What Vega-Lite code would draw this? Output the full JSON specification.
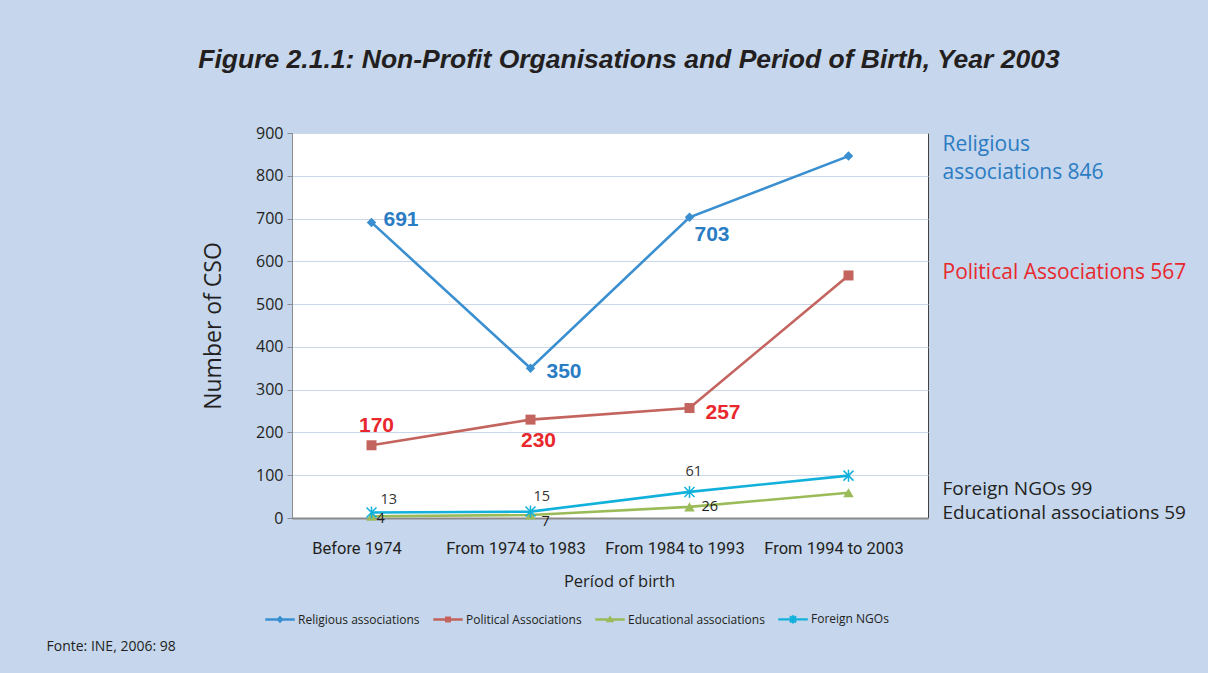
{
  "$schema": "https://vega.github.io/schema/vega-lite/v6.json",
  "width": 636,
  "height": 385,
  "autosize": {"type": "none"},
  "padding": {"left": 292, "top": 133, "right": 280, "bottom": 155},
  "background": "#c5d6ed",
  "config": {
    "view": {"fill": "#ffffff", "stroke": "#404040", "strokeWidth": 1},
    "font": "Open Sans"
  },
  "title": {
    "text": "Figure 2.1.1: Non-Profit Organisations and Period of Birth, Year 2003",
    "font": "Liberation Sans",
    "fontSize": 26.5,
    "fontStyle": "italic",
    "fontWeight": "bold",
    "color": "#231f20",
    "anchor": "middle",
    "frame": "group",
    "dx": 19,
    "offset": 52
  },
  "data": {
    "values": [
      {"period": "Before 1974", "series": "Religious associations", "n": 691},
      {"period": "From 1974 to 1983", "series": "Religious associations", "n": 350},
      {"period": "From 1984 to 1993", "series": "Religious associations", "n": 703},
      {"period": "From 1994 to 2003", "series": "Religious associations", "n": 846},
      {"period": "Before 1974", "series": "Political Associations", "n": 170},
      {"period": "From 1974 to 1983", "series": "Political Associations", "n": 230},
      {"period": "From 1984 to 1993", "series": "Political Associations", "n": 257},
      {"period": "From 1994 to 2003", "series": "Political Associations", "n": 567},
      {"period": "Before 1974", "series": "Educational associations", "n": 4},
      {"period": "From 1974 to 1983", "series": "Educational associations", "n": 7},
      {"period": "From 1984 to 1993", "series": "Educational associations", "n": 26},
      {"period": "From 1994 to 2003", "series": "Educational associations", "n": 59},
      {"period": "Before 1974", "series": "Foreign NGOs", "n": 13},
      {"period": "From 1974 to 1983", "series": "Foreign NGOs", "n": 15},
      {"period": "From 1984 to 1993", "series": "Foreign NGOs", "n": 61},
      {"period": "From 1994 to 2003", "series": "Foreign NGOs", "n": 99}
    ]
  },
  "encoding": {
    "x": {
      "field": "period",
      "type": "ordinal",
      "sort": ["Before 1974", "From 1974 to 1983", "From 1984 to 1993", "From 1994 to 2003"],
      "scale": {"type": "point", "padding": 0.5},
      "axis": {
        "title": "Períod of birth",
        "grid": false,
        "ticks": false,
        "domainColor": "#8a8a8a",
        "domainWidth": 2,
        "labelAngle": 0,
        "labelPadding": 22,
        "labelOffset": -15,
        "labelFont": "Roboto",
        "labelFontSize": 16.5,
        "labelColor": "#231f20",
        "titleFont": "Open Sans",
        "titleFontSize": 16.5,
        "titleFontWeight": "normal",
        "titleColor": "#231f20",
        "titlePadding": 17,
        "titleX": 327
      }
    },
    "y": {
      "field": "n",
      "type": "quantitative",
      "scale": {"domain": [0, 900], "nice": false},
      "axis": {
        "title": "Number of CSO",
        "values": [0, 100, 200, 300, 400, 500, 600, 700, 800, 900],
        "grid": true,
        "gridColor": "#c9d7ea",
        "gridWidth": 1,
        "domainColor": "#8c8c8c",
        "tickColor": "#8c8c8c",
        "tickSize": 5,
        "labelPadding": 4,
        "labelFont": "Open Sans",
        "labelFontSize": 16,
        "labelColor": "#231f20",
        "titleFont": "Open Sans",
        "titleFontSize": 23,
        "titleFontWeight": "normal",
        "titleColor": "#231f20",
        "titlePadding": 30
      }
    }
  },
  "layer": [
    {"mark": {"type": "point", "filled": true, "opacity": 0},
     "encoding": {
       "color": {"field": "series", "type": "nominal",
         "scale": {"domain": ["Religious associations", "Political Associations", "Educational associations", "Foreign NGOs"], "range": ["#3a8fd0", "#c4645e", "#9bbb59", "#12b1dc"]},
         "legend": {"title": null, "orient": "none", "legendX": -27, "legendY": 471, "direction": "horizontal", "labelFont": "Open Sans", "labelFontSize": 12, "labelColor": "#231f20", "labelOffset": 3, "columnPadding": 11, "symbolSize": 784, "symbolOpacity": 1}},
       "shape": {"field": "series", "type": "nominal",
         "scale": {"domain": ["Religious associations", "Political Associations", "Educational associations", "Foreign NGOs"],
           "range": [
             "M-1,-0.03H1V0.03H-1Z M0,-0.2L0.2,0L0,0.2L-0.2,0Z",
             "M-1,-0.03H1V0.03H-1Z M-0.16,-0.16H0.16V0.16H-0.16Z",
             "M-1,-0.03H1V0.03H-1Z M0,-0.2L0.2,0.15H-0.2Z",
             "M-1,-0.03H1V0.03H-1Z M-0.2,-0.16L-0.16,-0.2L0.2,0.16L0.16,0.2Z M0.16,-0.2L0.2,-0.16L-0.16,0.2L-0.2,0.16Z M-0.02,-0.24H0.02V0.24H-0.02Z"
           ]},
         "legend": {"title": null, "orient": "none", "legendX": -27, "legendY": 471, "direction": "horizontal", "labelFont": "Open Sans", "labelFontSize": 12, "labelColor": "#231f20", "labelOffset": 3, "columnPadding": 11, "symbolSize": 784, "symbolOpacity": 1}}
     }},
    {"mark": {"type": "line", "strokeWidth": 2.6},
     "encoding": {"stroke": {"field": "series", "type": "nominal", "legend": null,
       "scale": {"domain": ["Religious associations", "Political Associations", "Educational associations", "Foreign NGOs"], "range": ["#3a8fd0", "#c4645e", "#9bbb59", "#12b1dc"]}}}},
    {"transform": [{"filter": "datum.series === 'Religious associations'"}],
     "mark": {"type": "point", "shape": "diamond", "filled": true, "size": 90, "opacity": 1},
     "encoding": {"fill": {"field": "series", "type": "nominal", "legend": null,
       "scale": {"domain": ["Religious associations", "Political Associations", "Educational associations", "Foreign NGOs"], "range": ["#3a8fd0", "#c4645e", "#9bbb59", "#12b1dc"]}}}},
    {"transform": [{"filter": "datum.series === 'Political Associations'"}],
     "mark": {"type": "point", "shape": "square", "filled": true, "size": 100, "opacity": 1},
     "encoding": {"fill": {"field": "series", "type": "nominal", "legend": null}}},
    {"transform": [{"filter": "datum.series === 'Educational associations'"}],
     "mark": {"type": "point", "shape": "triangle-up", "filled": true, "size": 110, "opacity": 1},
     "encoding": {"fill": {"field": "series", "type": "nominal", "legend": null}}},
    {"transform": [{"filter": "datum.series === 'Foreign NGOs'"}],
     "mark": {"type": "point", "shape": "M-1,-1L1,1M-1,1L1,-1M0,-1.2V1.2", "filled": false, "size": 100, "strokeWidth": 1.5, "opacity": 1},
     "encoding": {"stroke": {"field": "series", "type": "nominal", "legend": null}}},

    {"transform": [{"filter": "datum.series === 'Religious associations' && datum.period === 'Before 1974'"}],
     "mark": {"type": "text", "align": "left", "baseline": "middle", "dx": 12, "dy": -2, "font": "Liberation Sans", "fontWeight": "bold", "fontSize": 21},
     "encoding": {"text": {"field": "n", "type": "quantitative"}, "color": {"value": "#2a7cc4"}}},
    {"transform": [{"filter": "datum.series === 'Religious associations' && datum.period === 'From 1974 to 1983'"}],
     "mark": {"type": "text", "align": "left", "baseline": "middle", "dx": 16, "dy": 4, "font": "Liberation Sans", "fontWeight": "bold", "fontSize": 21},
     "encoding": {"text": {"field": "n", "type": "quantitative"}, "color": {"value": "#2a7cc4"}}},
    {"transform": [{"filter": "datum.series === 'Religious associations' && datum.period === 'From 1984 to 1993'"}],
     "mark": {"type": "text", "align": "left", "baseline": "middle", "dx": 5, "dy": 18, "font": "Liberation Sans", "fontWeight": "bold", "fontSize": 21},
     "encoding": {"text": {"field": "n", "type": "quantitative"}, "color": {"value": "#2a7cc4"}}},
    {"transform": [{"filter": "datum.series === 'Political Associations' && datum.period === 'Before 1974'"}],
     "mark": {"type": "text", "align": "center", "baseline": "middle", "dx": 5, "dy": -19, "font": "Liberation Sans", "fontWeight": "bold", "fontSize": 21},
     "encoding": {"text": {"field": "n", "type": "quantitative"}, "color": {"value": "#e8282d"}}},
    {"transform": [{"filter": "datum.series === 'Political Associations' && datum.period === 'From 1974 to 1983'"}],
     "mark": {"type": "text", "align": "center", "baseline": "middle", "dx": 8, "dy": 21, "font": "Liberation Sans", "fontWeight": "bold", "fontSize": 21},
     "encoding": {"text": {"field": "n", "type": "quantitative"}, "color": {"value": "#e8282d"}}},
    {"transform": [{"filter": "datum.series === 'Political Associations' && datum.period === 'From 1984 to 1993'"}],
     "mark": {"type": "text", "align": "left", "baseline": "middle", "dx": 16, "dy": 5, "font": "Liberation Sans", "fontWeight": "bold", "fontSize": 21},
     "encoding": {"text": {"field": "n", "type": "quantitative"}, "color": {"value": "#e8282d"}}},

    {"transform": [{"filter": "datum.series === 'Foreign NGOs' && datum.period === 'Before 1974'"}],
     "mark": {"type": "text", "align": "left", "baseline": "middle", "dx": 9, "dy": -12, "font": "Open Sans", "fontSize": 14.5},
     "encoding": {"text": {"field": "n", "type": "quantitative"}, "color": {"value": "#333333"}}},
    {"transform": [{"filter": "datum.series === 'Foreign NGOs' && datum.period === 'From 1974 to 1983'"}],
     "mark": {"type": "text", "align": "left", "baseline": "middle", "dx": 3, "dy": -15, "font": "Open Sans", "fontSize": 14.5},
     "encoding": {"text": {"field": "n", "type": "quantitative"}, "color": {"value": "#333333"}}},
    {"transform": [{"filter": "datum.series === 'Foreign NGOs' && datum.period === 'From 1984 to 1993'"}],
     "mark": {"type": "text", "align": "left", "baseline": "middle", "dx": -4, "dy": -20, "font": "Open Sans", "fontSize": 14.5},
     "encoding": {"text": {"field": "n", "type": "quantitative"}, "color": {"value": "#333333"}}},
    {"transform": [{"filter": "datum.series === 'Educational associations' && datum.period === 'Before 1974'"}],
     "mark": {"type": "text", "align": "left", "baseline": "middle", "dx": 5, "dy": 3, "font": "Open Sans", "fontSize": 14.5},
     "encoding": {"text": {"field": "n", "type": "quantitative"}, "color": {"value": "#231f20"}}},
    {"transform": [{"filter": "datum.series === 'Educational associations' && datum.period === 'From 1974 to 1983'"}],
     "mark": {"type": "text", "align": "left", "baseline": "middle", "dx": 11, "dy": 7, "font": "Open Sans", "fontSize": 14.5},
     "encoding": {"text": {"field": "n", "type": "quantitative"}, "color": {"value": "#231f20"}}},
    {"transform": [{"filter": "datum.series === 'Educational associations' && datum.period === 'From 1984 to 1993'"}],
     "mark": {"type": "text", "align": "left", "baseline": "middle", "dx": 12, "dy": 0, "font": "Open Sans", "fontSize": 14.5},
     "encoding": {"text": {"field": "n", "type": "quantitative"}, "color": {"value": "#231f20"}}},

    {"transform": [{"filter": "datum.series === 'Religious associations' && datum.period === 'From 1994 to 2003'"}],
     "mark": {"type": "text", "align": "left", "baseline": "middle", "dx": 94, "dy": -11, "font": "Open Sans", "fontSize": 21, "lineHeight": 28, "text": {"expr": "['Religious', 'associations ' + datum.n]"}},
     "encoding": {"color": {"value": "#2b7cc2"}}},
    {"transform": [{"filter": "datum.series === 'Political Associations' && datum.period === 'From 1994 to 2003'"}],
     "mark": {"type": "text", "align": "left", "baseline": "middle", "dx": 94, "dy": -2, "font": "Open Sans", "fontSize": 21, "text": {"expr": "'Political Associations ' + datum.n"}},
     "encoding": {"color": {"value": "#e8282d"}}},
    {"transform": [{"filter": "datum.series === 'Foreign NGOs' && datum.period === 'From 1994 to 2003'"}],
     "mark": {"type": "text", "align": "left", "baseline": "middle", "dx": 94, "dy": 13, "font": "Open Sans", "fontSize": 19, "text": {"expr": "'Foreign NGOs ' + datum.n"}},
     "encoding": {"color": {"value": "#231f20"}}},
    {"transform": [{"filter": "datum.series === 'Educational associations' && datum.period === 'From 1994 to 2003'"}],
     "mark": {"type": "text", "align": "left", "baseline": "middle", "dx": 94, "dy": 20, "font": "Open Sans", "fontSize": 19, "text": {"expr": "'Educational associations ' + datum.n"}},
     "encoding": {"color": {"value": "#231f20"}}},

    {"transform": [{"filter": "datum.series === 'Educational associations' && datum.period === 'Before 1974'"}],
     "mark": {"type": "text", "align": "left", "baseline": "middle", "dx": -325, "dy": 131, "font": "Open Sans", "fontSize": 14, "text": "Fonte: INE, 2006: 98"},
     "encoding": {"color": {"value": "#231f20"}}}
  ]
}
